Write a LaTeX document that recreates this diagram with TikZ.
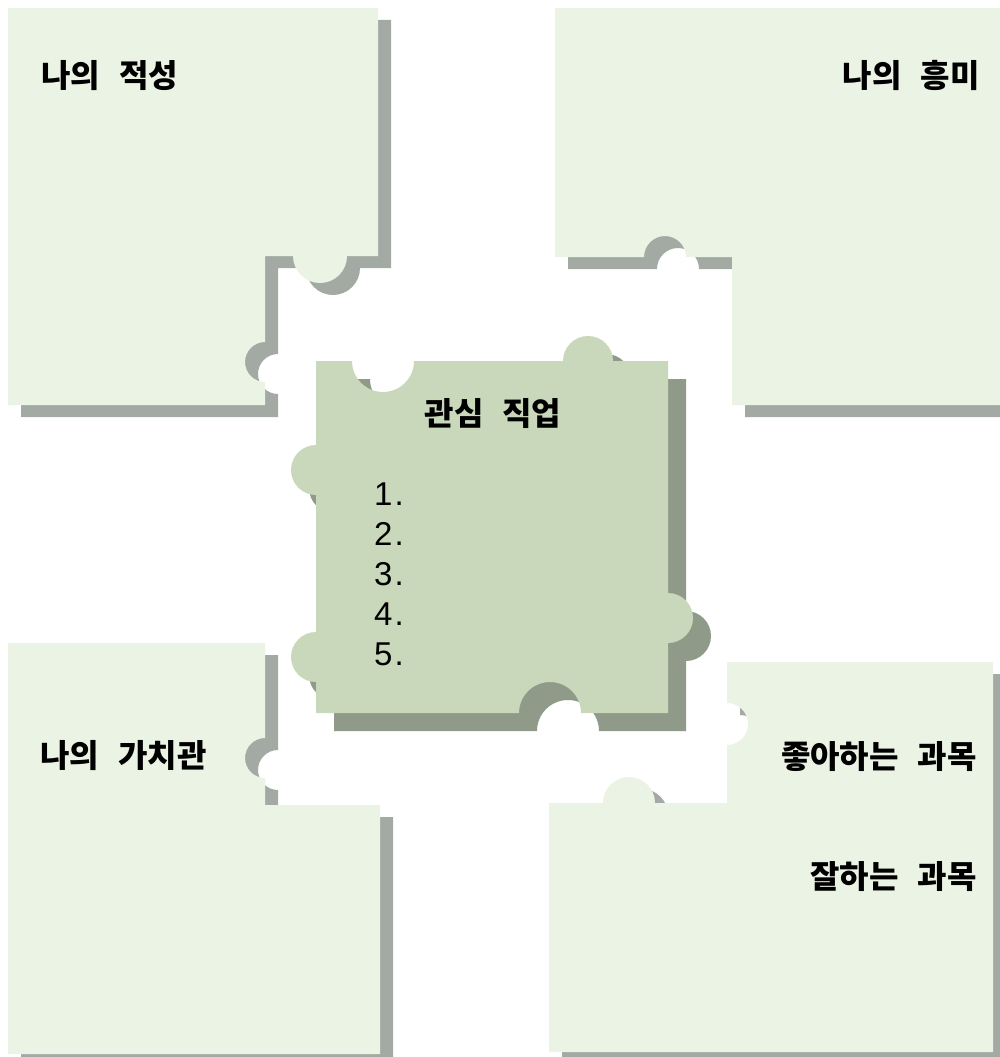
\documentclass[tikz,border=0pt]{standalone}
\usepackage{fontspec}
\setmainfont{Noto Sans CJK KR}[WordSpace=2.6]
\newfontfamily\numfont{Liberation Sans}
\usepackage{xcolor}
\usepackage{tikz}
\definecolor{pieceLight}{RGB}{235,243,228}
\definecolor{pieceMid}{RGB}{201,216,186}
\definecolor{shadeLight}{RGB}{163,170,163}
\definecolor{shadeMid}{RGB}{143,155,136}
\tikzstyle{piece} = [fill=pieceLight, draw=none]
\tikzstyle{core} = [fill=pieceMid, draw=none]
\tikzstyle{headtxt} = [font=\fontsize{32}{38}\selectfont\bfseries, inner sep=0]
\tikzstyle{numtxt} = [font=\numfont\fontsize{33}{40}\selectfont, inner sep=0, anchor=base west]
\tikzset{
  tlpath/.style={insert path={(8,8) -- (378,8) -- (378,256) -- (347,256)
    arc[start angle=0, end angle=180, radius=27] -- (265,256) -- (265,342)
    arc[start angle=270, end angle=90, radius=20] -- (265,405) -- (8,405) -- cycle}},
  trpath/.style={insert path={(555,8) -- (1000,8) -- (1000,405) -- (732,405) -- (732,257) -- (686,257)
    arc[start angle=0, end angle=-180, radius=21] -- (555,257) -- cycle}},
  blpath/.style={insert path={(8,643) -- (265,643) -- (265,738)
    arc[start angle=270, end angle=90, radius=20] -- (265,805) -- (380,805) -- (380,1054) -- (8,1054) -- cycle}},
  brpath/.style={insert path={(727,662) -- (993,662) -- (993,1052) -- (549,1052) -- (549,803) -- (603,803)
    arc[start angle=180, end angle=360, radius=26] -- (727,803) -- (727,745)
    arc[start angle=90, end angle=-90, radius=21] -- cycle}},
  cpath/.style={insert path={(316,361) -- (352,361)
    arc[start angle=180, end angle=0, radius=31] -- (563,361)
    arc[start angle=180, end angle=360, radius=25] -- (668,361) -- (668,593)
    arc[start angle=-90, end angle=90, radius=25] -- (668,713) -- (581,713)
    arc[start angle=0, end angle=-180, radius=31] -- (316,713) -- (316,682)
    arc[start angle=90, end angle=270, radius=25] -- (316,495)
    arc[start angle=90, end angle=270, radius=25] -- cycle}}
}

\begin{document}
\begin{tikzpicture}[x=1pt, y=-1pt]
\useasboundingbox (0,0) rectangle (1000,1057);
% shadows first, then the pieces
\foreach \p in {tlpath,trpath,blpath,brpath}
  \fill [shadeLight, shift={(13,12)}, \p];
\fill [shadeMid, shift={(18,18)}, cpath];
\foreach \p in {tlpath,trpath,blpath,brpath}
  \path [piece, \p];
\path [core, cpath];

\node [headtxt, anchor=base west] (apt) at (41,88) {나의 적성};
\node [headtxt, anchor=base east] (intr) at (980,88) {나의 흥미};
\node [headtxt, anchor=base] (job) at (493,425) {관심 직업};
\foreach \n in {1,...,5}
  \node [numtxt] (item\n) at (374,465+40*\n) {\n\hspace{2pt}.};
\node [headtxt, anchor=base west] (val) at (40,767) {나의 가치관};
\node [headtxt, anchor=base east] (like) at (977,768) {좋아하는 과목};
\node [headtxt, anchor=base east] (good) at (977,888) {잘하는 과목};
\end{tikzpicture}
\end{document}
